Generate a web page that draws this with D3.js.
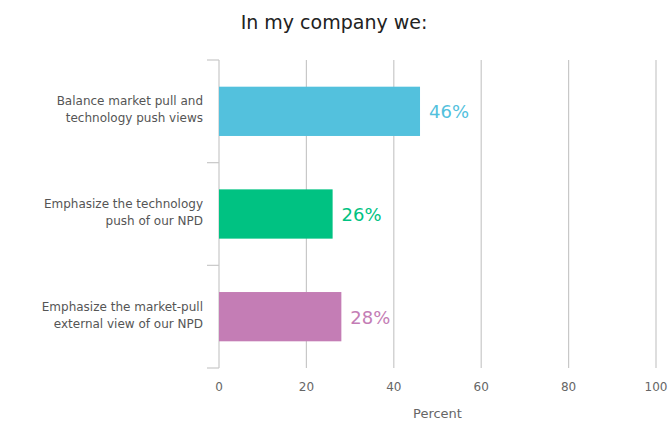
<!DOCTYPE html>
<html><head><meta charset="utf-8">
<script src="https://cdn.jsdelivr.net/npm/d3@7"></script>
<style>body{margin:0;background:#fff}</style>
</head><body>
<svg id="c" width="669" height="446"></svg>
<script>
const categories = [
  ["Balance market pull and", "technology push views"],
  ["Emphasize the technology", "push of our NPD"],
  ["Emphasize the market-pull", "external view of our NPD"]
];
const values = [46, 26, 28];
const colors = ["#53c1dd", "#00c282", "#c47db5"];
const xTicks = [0, 20, 40, 60, 80, 100];
const title = "In my company we:";
const xTitle = "Percent";

const svg = d3.select("#c");
const font = "DejaVu Sans, Verdana, sans-serif";
const m = {left: 219, right: 656, top: 60, bottom: 368};
const x = d3.scaleLinear().domain([0, 100]).range([m.left, m.right]);
const y = d3.scaleBand().domain(d3.range(categories.length)).range([m.top, m.bottom]).paddingInner(0.52).paddingOuter(0.26);
const yb = d3.scaleBand().domain(d3.range(categories.length)).range([m.top, m.bottom]);

svg.append("text").attr("x", 334).attr("y", 29).attr("text-anchor", "middle")
  .attr("font-family", font).attr("font-size", 19).attr("fill", "#222").text(title);

// grid
svg.append("g").selectAll("line").data(xTicks.filter(d => d > 0)).join("line")
  .attr("x1", d => x(d)).attr("x2", d => x(d)).attr("y1", m.top).attr("y2", m.bottom)
  .attr("stroke", "#c8c8c8").attr("stroke-width", 1.2);

// y axis line and ticks
const bounds = d3.range(categories.length + 1).map(i => i < categories.length ? yb(i) : yb.range()[1]);
svg.append("line").attr("x1", m.left).attr("x2", m.left).attr("y1", m.top).attr("y2", m.bottom)
  .attr("stroke", "#c8c8c8").attr("stroke-width", 1.2);
svg.append("g").selectAll("line").data(bounds).join("line")
  .attr("x1", m.left - 12).attr("x2", m.left).attr("y1", d => d).attr("y2", d => d)
  .attr("stroke", "#c8c8c8").attr("stroke-width", 1.2);

// x tick labels
svg.append("g").selectAll("text").data(xTicks).join("text")
  .attr("x", d => x(d)).attr("y", 391).attr("text-anchor", "middle")
  .attr("font-family", font).attr("font-size", 12).attr("fill", "#666").text(d => d);
svg.append("text").attr("x", (m.left + m.right) / 2).attr("y", 418).attr("text-anchor", "middle")
  .attr("font-family", font).attr("font-size", 13).attr("fill", "#666").text(xTitle);

// bars
svg.append("g").selectAll("rect").data(values).join("rect")
  .attr("x", x(0)).attr("y", (d, i) => y(i)).attr("width", d => x(d) - x(0)).attr("height", y.bandwidth())
  .attr("fill", (d, i) => colors[i]);

svg.append("g").selectAll("text").data(values).join("text")
  .attr("x", d => x(d) + 9).attr("y", (d, i) => y(i) + y.bandwidth() / 2 + 7)
  .attr("font-family", font).attr("font-size", 18).attr("fill", (d, i) => colors[i]).text(d => d + "%");

// category labels
const cl = svg.append("g").selectAll("text").data(categories).join("text")
  .attr("text-anchor", "end").attr("font-family", font).attr("font-size", 12).attr("fill", "#555");
cl.selectAll("tspan").data((d, i) => d.map(s => ({s, i}))).join("tspan")
  .attr("x", 203).attr("y", (d, j) => yb(d.i) + yb.bandwidth() / 2 - 6 + j * 17)
  .text(d => d.s);
</script>
</body></html>
